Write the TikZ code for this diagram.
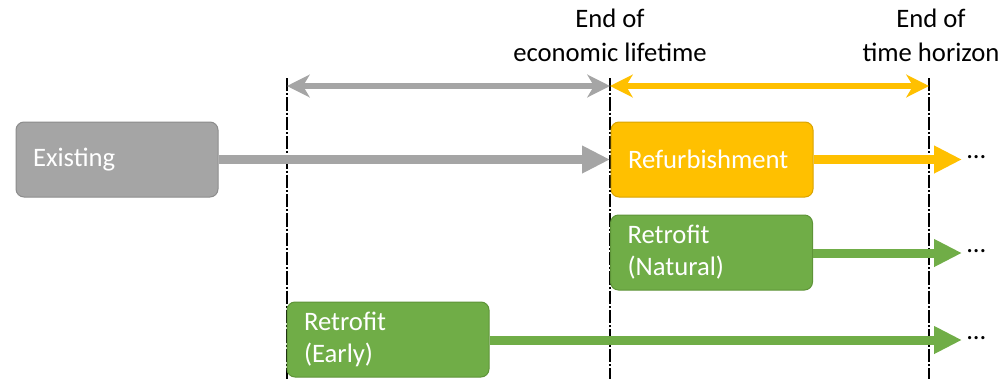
\documentclass[tikz,border=0pt]{standalone}
\usepackage{fontspec}
\setmainfont{Carlito}
\usetikzlibrary{arrows.meta}
\definecolor{cgray}{HTML}{A5A5A5}
\definecolor{cgrayd}{HTML}{8C8C8C}
\definecolor{corange}{HTML}{FFC000}
\definecolor{corangeD}{HTML}{D9A300}
\definecolor{cgreen}{HTML}{70AD47}
\definecolor{cgreenD}{HTML}{5E9438}
\tikzset{
  box/.style={rounded corners=6pt, line width=0.75pt, minimum width=151.5pt, minimum height=56.25pt,
    text width=126pt, inner xsep=12.75pt, align=left, text=white, font=\fontsize{20}{24}\selectfont},
  flow/.style={line width=6.75pt, -{Triangle[length=21pt,width=19.5pt]}},
  span/.style={line width=4.5pt, {Stealth[length=17pt,width=17pt,inset=5pt]}-{Stealth[length=17pt,width=17pt,inset=5pt]}},
  mark line/.style={line width=1.5pt, black, dash pattern=on 10pt off 1.5pt on 1.5pt off 1.5pt},
  hdr/.style={align=center, font=\fontsize{20}{25.5}\selectfont, text=black},
  more/.style={font=\fontsize{20}{24}\selectfont, text=black}
}
\begin{document}
\begin{tikzpicture}[x=0.75pt,y=-0.75pt]
\useasboundingbox (0,0) rectangle (1003,379);
% vertical markers
\coordinate (v1t) at (287,78); \coordinate (v1b) at (287,379);
\coordinate (v2t) at (610,78); \coordinate (v2b) at (610,379);
\coordinate (v3t) at (929,78); \coordinate (v3b) at (929,379);
\draw[mark line] (v1t) -- (v1b);
\draw[mark line] (v2t) -- (v2b);
\draw[mark line] (v3t) -- (v3b);
% header labels
\node[hdr] (h1) at (610,35) {End of\\economic lifetime};
\node[hdr] (h2) at (931,35) {End of\\time horizon};
% span arrows
\coordinate (s1) at (287,86); \coordinate (s2) at (610,86); \coordinate (s3) at (929,86);
\draw[span, cgray] (s1) -- (s2);
\draw[span, corange] (s2) -- (s3);
% boxes
\node[box, fill=cgray, draw=cgrayd] (ex) at (117,159.5) {Existing};
\node[box, fill=corange, draw=corangeD] (rf) at (712,159.5) {Refurbishment};
\node[box, fill=cgreen, draw=cgreenD] (rn) at (711.5,252.5) {Retrofit\\(Natural)};
\node[box, fill=cgreen, draw=cgreenD] (re) at (388,339.5) {Retrofit\\(Early)};
% flows
\coordinate (exend) at (610,159.5);
\coordinate (rfend) at (962,159.5);
\coordinate (rnend) at (962,253);
\coordinate (reend) at (962,340);
\draw[flow, cgray] (ex.east) -- (exend);
\draw[flow, corange] (rf.east) -- (rfend);
\draw[flow, cgreen] (rn.east |- rnend) -- (rnend);
\draw[flow, cgreen] (re.east |- reend) -- (reend);
% dots
\node[more, anchor=west, inner sep=0pt] (d1) at (966,157) {...};
\node[more, anchor=west, inner sep=0pt] (d2) at (966,251) {...};
\node[more, anchor=west, inner sep=0pt] (d3) at (966,338) {...};
\end{tikzpicture}
\end{document}
